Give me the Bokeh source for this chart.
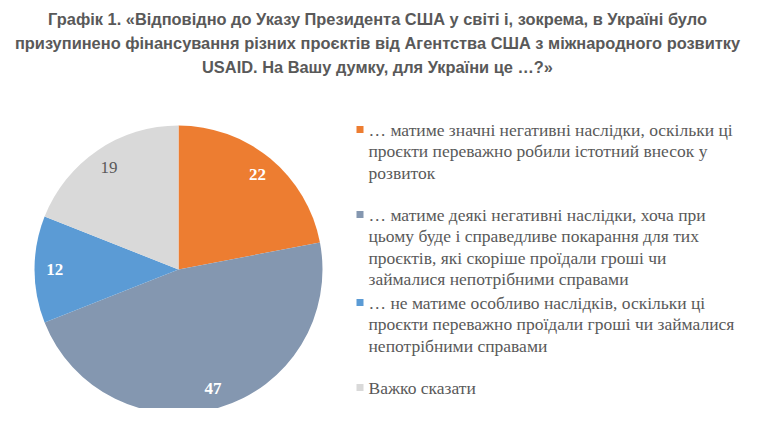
import math
from bokeh.plotting import figure
from bokeh.models import Range1d, ColumnDataSource
from bokeh.core.properties import value
from bokeh.embed import file_html
from bokeh.resources import INLINE

title_lines = [
    "Графік 1. «Відповідно до Указу Президента США у світі і, зокрема, в Україні було",
    "призупинено фінансування різних проєктів від Агентства США з міжнародного розвитку",
    "USAID. На Вашу думку, для України це …?»",
]
categories = [
    "… матиме значні негативні наслідки, оскільки ці проєкти переважно робили істотний внесок у розвиток",
    "… матиме деякі негативні наслідки, хоча при цьому буде і справедливе покарання для тих проєктів, які скоріше проїдали гроші чи займалися непотрібними справами",
    "… не матиме особливо наслідків, оскільки ці проєкти переважно проїдали гроші чи займалися непотрібними справами",
    "Важко сказати",
]
legend_lines = [
    ["… матиме значні негативні наслідки, оскільки ці",
     "проєкти переважно робили істотний внесок у",
     "розвиток"],
    ["… матиме деякі негативні наслідки, хоча при",
     "цьому буде і справедливе покарання для тих",
     "проєктів, які скоріше проїдали гроші чи",
     "займалися непотрібними справами"],
    ["… не матиме особливо наслідків, оскільки ці",
     "проєкти переважно проїдали гроші чи займалися",
     "непотрібними справами"],
    ["Важко сказати"],
]
values = [22, 47, 12, 19]
colors = ["#ED7D31", "#8497B0", "#5B9BD5", "#D9D9D9"]
label_colors = ["white", "white", "white", "#595959"]
label_styles = ["bold", "bold", "bold", "normal"]

W, H = 748, 408
p = figure(width=W, height=H, output_backend="svg", toolbar_location=None,
           x_range=Range1d(0, W), y_range=Range1d(424 - H, 424),
           min_border=0)
p.axis.visible = False
p.grid.visible = False
p.outline_line_color = None
p.background_fill_color = "white"
p.border_fill_color = "white"

def Y(img_y):
    return 424 - img_y

# pie
cx, cy, R = 178, Y(269), 144
total = float(sum(values))
starts, ends, lx, ly = [], [], [], []
cum = 0.0
for v in values:
    a0 = math.pi / 2 - 2 * math.pi * cum / total
    a1 = math.pi / 2 - 2 * math.pi * (cum + v) / total
    starts.append(a1)
    ends.append(a0)
    mid = (a0 + a1) / 2
    lx.append(cx + 0.86 * R * math.cos(mid))
    ly.append(cy + 0.86 * R * math.sin(mid))
    cum += v

src = ColumnDataSource(dict(start=starts, end=ends, color=colors,
                            lx=lx, ly=ly, lab=[str(v) for v in values],
                            lc=label_colors, ls=label_styles))
p.wedge(x=cx, y=cy, radius=R, start_angle="start", end_angle="end",
        direction="anticlock", fill_color="color", line_color=None, source=src)
p.text(x="lx", y="ly", text="lab", text_color="lc", text_font_style="ls",
       text_font=value("Liberation Serif"), text_font_size="17px",
       text_align="center", text_baseline="middle", source=src)

# title
tys = [18, 42, 66]
p.text(x=[377] * 3, y=[Y(t) for t in tys], text=title_lines,
       text_font=value("Liberation Sans"), text_font_style="bold",
       text_font_size="16.4px", text_color="#595959",
       text_align="center", text_baseline="middle")

# legend
entry_y = [129, 214, 302, 387]
line_h = 21.5
sq_x, sq_y = [], []
tx, ty, tt = [], [], []
for i, lines in enumerate(legend_lines):
    sq_x.append(359.5)
    sq_y.append(Y(entry_y[i]))
    for j, ln in enumerate(lines):
        tx.append(368)
        ty.append(Y(entry_y[i] + j * line_h))
        tt.append(ln)
p.rect(x=sq_x, y=sq_y, width=7, height=7, fill_color=colors, line_color=None)
p.text(x=tx, y=ty, text=tt, text_font=value("Liberation Serif"),
       text_font_size="17.5px", text_color="#595959",
       text_align="left", text_baseline="middle")

open("out.html", "w").write(file_html(p, INLINE))
